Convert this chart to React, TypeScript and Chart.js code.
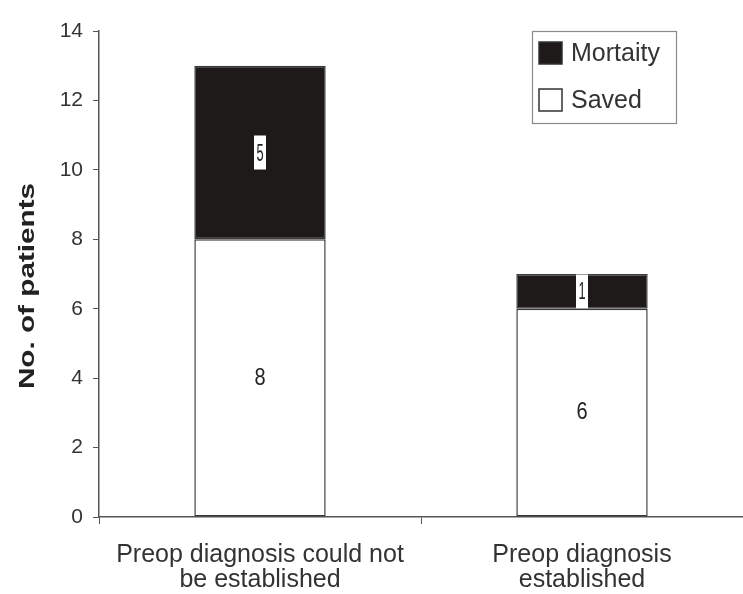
import React, { useEffect, useRef } from "react";
import { Chart, registerables } from "chart.js";

Chart.register(...registerables);

const categories: string[][] = [
  ["Preop diagnosis could not", "be established"],
  ["Preop diagnosis", "established"],
];
const savedValues = [8, 6];
const mortalityValues = [5, 1];
const yTicks = { min: 0, max: 14, step: 2 };
const seriesNames = { saved: "Saved", mortality: "Mortaity" };
const yTitle = "No. of patients";

const FONT = "'Liberation Sans', Arial, Helvetica, sans-serif";
const DARK = "#1e1a1a";
const EDGE = "#3a3a3a";

const labelPlugin = {
  id: "barLabels",
  afterDatasetsDraw(chart: any) {
    const ctx = chart.ctx;
    chart.data.datasets.forEach((ds: any, di: number) => {
      const meta = chart.getDatasetMeta(di);
      meta.data.forEach((bar: any, i: number) => {
        const v = ds.data[i];
        const cx = bar.x;
        const cy = (bar.y + bar.base) / 2;
        ctx.save();
        if (ds.labelStyle === "plain") {
          ctx.translate(cx, cy);
          ctx.scale(1, 1.2);
          ctx.fillStyle = "#222";
          ctx.font = `20px ${FONT}`;
          ctx.textAlign = "center";
          ctx.textBaseline = "middle";
          ctx.fillText(String(v), 0, 0);
        } else {
          const h = Math.min(34, Math.abs(bar.base - bar.y) - 1);
          ctx.fillStyle = "#ffffff";
          ctx.fillRect(cx - 6, cy - h / 2, 12, h);
          ctx.translate(cx, cy);
          ctx.scale(0.8, 1.5);
          ctx.fillStyle = "#222";
          ctx.font = `16px ${FONT}`;
          ctx.textAlign = "center";
          ctx.textBaseline = "middle";
          ctx.fillText(String(v), 0, 1);
        }
        ctx.restore();
      });
    });
  },
};

const legendPlugin = {
  id: "boxLegend",
  afterDraw(chart: any) {
    const ctx = chart.ctx;
    const area = chart.chartArea;
    const left = area.right - 211;
    const top = area.top;
    const w = 144;
    const h = 92;
    ctx.save();
    ctx.strokeStyle = "#8a8a8a";
    ctx.lineWidth = 1.2;
    ctx.strokeRect(left + 0.5, top + 0.5, w, h);
    const items = [
      { text: seriesNames.mortality, fill: DARK },
      { text: seriesNames.saved, fill: "#ffffff" },
    ];
    items.forEach((it, k) => {
      const sy = top + 11 + k * 47;
      ctx.fillStyle = it.fill;
      ctx.fillRect(left + 7, sy, 23, 22);
      ctx.strokeStyle = "#333";
      ctx.lineWidth = 1.5;
      ctx.strokeRect(left + 7, sy, 23, 22);
      ctx.fillStyle = "#333";
      ctx.font = `25px ${FONT}`;
      ctx.textAlign = "left";
      ctx.textBaseline = "middle";
      ctx.fillText(it.text, left + 39, sy + 12);
    });
    ctx.restore();
  },
};

const titlePlugin = {
  id: "yTitleDraw",
  afterDraw(chart: any) {
    const ctx = chart.ctx;
    const area = chart.chartArea;
    ctx.save();
    ctx.translate(28, (area.top + area.bottom) / 2 + 12);
    ctx.rotate(-Math.PI / 2);
    ctx.scale(1.35, 1);
    ctx.fillStyle = "#222";
    ctx.font = `bold 22px ${FONT}`;
    ctx.textAlign = "center";
    ctx.textBaseline = "middle";
    ctx.fillText(yTitle, 0, 0);
    ctx.restore();
  },
};

export default function App() {
  const ref = useRef<HTMLCanvasElement | null>(null);
  useEffect(() => {
    if (!ref.current) return;
    const chart = new Chart(ref.current, {
      type: "bar",
      data: {
        labels: categories,
        datasets: [
          {
            label: seriesNames.saved,
            data: savedValues,
            backgroundColor: "#ffffff",
            borderColor: EDGE,
            borderWidth: 1.5,
            borderSkipped: false,
            labelStyle: "plain",
          } as any,
          {
            label: seriesNames.mortality,
            data: mortalityValues,
            backgroundColor: DARK,
            borderColor: EDGE,
            borderWidth: 1.5,
            borderSkipped: false,
            labelStyle: "boxed",
          } as any,
        ],
      },
      options: {
        animation: false,
        responsive: false,
        maintainAspectRatio: false,
        layout: { padding: { top: 31, right: 0, left: 0, bottom: 0 } },
        plugins: {
          legend: { display: false },
          tooltip: { enabled: false },
        },
        datasets: {
          bar: { categoryPercentage: 1, barPercentage: 0.408 },
        },
        scales: {
          x: {
            stacked: true,
            offset: true,
            grid: {
              drawOnChartArea: false,
              drawTicks: true,
              tickLength: 7,
              color: "#555",
              offset: true,
            },
            border: { display: true, color: "#555", width: 1.5 },
            ticks: {
              color: "#333",
              font: { family: FONT, size: 25, lineHeight: 1.02 },
              padding: 18,
              maxRotation: 0,
              autoSkip: false,
            },
            afterFit(scale: any) {
              scale.height = 77;
            },
          },
          y: {
            stacked: true,
            min: yTicks.min,
            max: yTicks.max,
            ticks: {
              stepSize: yTicks.step,
              color: "#333",
              font: { family: FONT, size: 21 },
              padding: 10,
            },
            grid: {
              drawOnChartArea: false,
              drawTicks: true,
              tickLength: 6,
              color: "#555",
            },
            border: { display: true, color: "#555", width: 1.5 },
            title: { display: false, text: yTitle },
            afterFit(scale: any) {
              scale.width = 99;
            },
          },
        },
      },
      plugins: [labelPlugin, legendPlugin, titlePlugin],
    } as any);
    return () => chart.destroy();
  }, []);
  return (
    <div style={{ position: "absolute", left: 0, top: 0, width: 743, height: 594, background: "#fff" }}>
      <canvas ref={ref} width={743} height={594} style={{ width: 743, height: 594 }} />
    </div>
  );
}
